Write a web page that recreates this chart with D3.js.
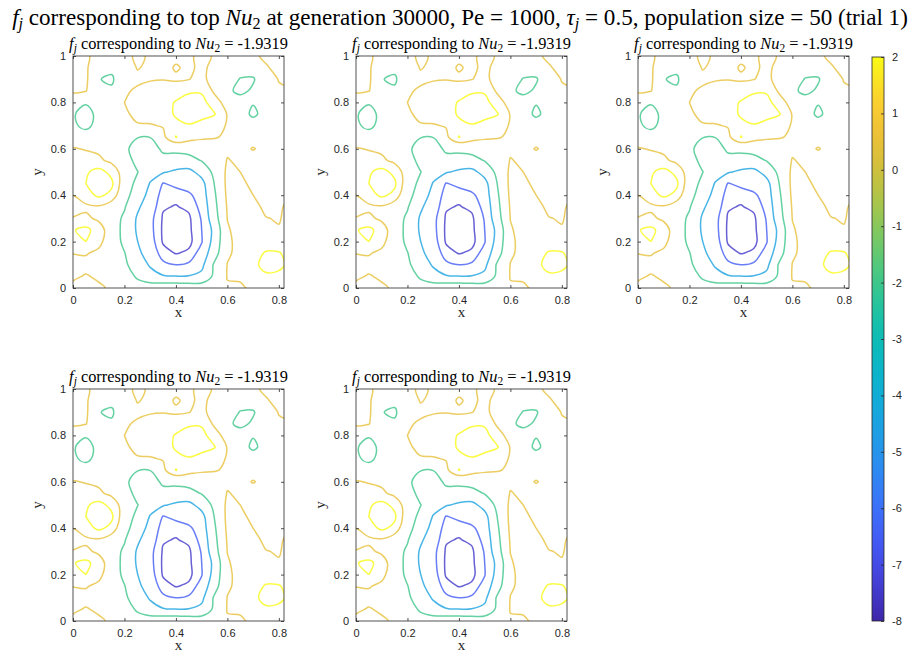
<!DOCTYPE html>
<html><head><meta charset="utf-8">
<script src="https://cdn.jsdelivr.net/npm/d3@7"></script>
<style>body{margin:0;background:#fff}svg{display:block}</style>
</head><body>
<svg id="fig" width="915" height="655"></svg>
<script>
// ---------------- data ----------------
const xGrid = [0,0.05,0.10,0.15,0.20,0.25,0.30,0.35,0.40,0.45,0.50,0.55,0.60,0.65,0.70,0.75,0.80,0.85];
const yGrid = [1.00,0.95,0.90,0.85,0.80,0.75,0.70,0.65,0.60,0.55,0.50,0.45,0.40,0.35,0.30,0.25,0.20,0.15,0.10,0.05,0.00];
// f_j field, one row per yGrid value (top row y = 1)
const fieldRows = [
 [ 1.2, 0.8,-0.2,-0.6, 0.0, 0.8, 0.3, 0.0, 0.2, 0.3, 0.8, 0.4, 0.0, 0.0, 0.3, 0.7, 0.9, 0.6],
 [ 1.1, 0.9,-1.5,-1.7,-0.6, 0.6, 0.2, 0.1, 0.62,0.25,0.8, 0.1,-1.0,-1.6,-1.0, 0.4, 0.8, 0.7],
 [ 0.9, 0.9,-1.95,-2.2,-1.0,0.1, 0.4, 0.45,0.3, 0.45,1.0,-0.3,-1.5,-2.05,-2.2,-0.6,0.6, 0.7],
 [ 0.8, 0.6,-1.4,-1.8, 0.2, 0.8, 1.0, 1.2, 1.4, 1.8, 1.8, 0.2,-1.6,-2.5,-1.7,-0.6, 0.2, 0.4],
 [-0.8,-1.8,-0.9,-0.2, 0.5, 0.9, 1.2, 1.5, 2.1, 2.6, 2.5, 1.2,-0.2,-1.0,-1.8,-1.0, 0.0, 0.3],
 [-1.8,-2.8,-1.4,-0.2, 0.3, 0.8, 1.0, 1.3, 2.2, 2.6, 2.5, 2.1, 0.4,-0.6,-2.6,-0.9,-0.2, 0.1],
 [-1.6,-2.6,-1.2,-0.2, 0.2, 0.4, 0.4, 0.6, 1.6, 1.9, 1.5, 1.0, 0.4, 0.0,-0.4,-0.6,-0.4,-0.2],
 [-0.3,-0.8,-0.4,-0.1,-0.8,-1.9,-1.95,0.1, 2.05,1.3, 0.8, 0.6, 0.3, 0.1,-0.2,-0.6,-0.5,-0.3],
 [ 0.6, 0.4, 0.2,-0.2,-1.4,-3.13,-3.25,-1.5,-1.4,-1.2,-0.8,-0.3,0.2, 0.0, 0.6, 0.0,-0.3,-0.3],
 [ 1.0, 1.1, 0.8, 0.1,-0.8,-2.75,-3.0,-2.88,-3.0,-2.75,-1.9,-1.0,0.6,0.2,-0.2,-0.4,-0.4,-0.3],
 [ 0.6, 1.8, 2.5, 1.6,-0.4,-1.9,-3.63,-4.3,-4.88,-5.2,-3.63,-1.4, 0.9,0.5,-0.3,-0.6,-0.6,-0.5],
 [ 0.9, 2.0, 2.8, 2.3,-0.6,-2.63,-4.63,-6.6,-6.1,-5.7,-5.3,-1.9, 1.0, 0.9, 0.1,-0.6,-0.6,-0.4],
 [ 0.5, 1.4, 2.3, 1.6,-1.2,-3.13,-5.3,-7.1,-7.2,-6.8,-5.7,-2.3, 0.9, 1.1, 0.5,-0.4,-0.5, 0.55],
 [-0.2, 0.2, 0.3,-0.6,-1.8,-4.13,-5.7,-7.4,-7.56,-7.3,-6.1,-2.63,0.7,1.2, 0.9, 0.2, 0.3, 0.9],
 [ 0.6, 0.8, 0.2,-0.9,-2.4,-4.75,-6.1,-7.62,-7.86,-7.68,-6.4,-3.0,0.55,1.3,1.1, 0.55,0.4, 1.0],
 [ 1.9, 2.4, 1.3,-0.5,-2.75,-4.75,-6.1,-7.68,-8.04,-7.74,-6.5,-3.88,0.3,1.2,1.3,0.8, 0.6, 1.1],
 [ 1.6, 2.0, 0.9,-0.4,-2.63,-4.45,-5.9,-7.62,-7.98,-7.8,-6.6,-3.63,0.2,1.0,1.5, 1.5, 1.3, 1.2],
 [ 0.55,0.6, 0.2,-0.4,-1.9,-4.0,-5.5,-7.1,-7.56,-7.3,-5.9,-3.0, 0.3, 0.9, 1.6, 2.1, 2.1, 1.5],
 [-0.2, 0.1, 0.0,-0.6,-1.6,-3.13,-4.75,-6.2,-6.5,-6.3,-5.1,-1.6, 0.55,0.8, 1.7, 2.4, 2.3, 1.6],
 [ 0.3, 0.6, 0.3,-0.2,-0.9,-2.3,-3.63,-4.3,-4.45,-4.4,-3.88,-1.5,0.6,0.8, 1.4, 1.8, 1.7, 1.2],
 [ 0.8, 0.6, 0.7, 0.3, 0.0,-1.0,-0.6,-0.3,-0.2,-0.3,-0.6,-0.8, 0.3, 0.2, 0.9, 1.1, 1.0, 0.9]
];
const levels = [-7.5, -6.5, -4.5, -2, 0.5, 2];
const xTicks = [0, 0.2, 0.4, 0.6, 0.8];
const yTicks = [0, 0.2, 0.4, 0.6, 0.8, 1];
const cbTicks = [-8, -7, -6, -5, -4, -3, -2, -1, 0, 1, 2];
const nuValues = ["-1.9319", "-1.9319", "-1.9319", "-1.9319", "-1.9319"];
const xDomain = [0, 0.82], yDomain = [0, 1], cDomain = [-8, 2];

// --------------- parula colormap ---------------
const parulaStops = [
 [0.243,0.150,0.660],[0.279,0.290,0.930],[0.240,0.440,0.995],[0.150,0.590,0.925],
 [0.060,0.685,0.840],[0.020,0.740,0.720],[0.220,0.785,0.550],[0.540,0.790,0.345],
 [0.830,0.745,0.215],[0.995,0.750,0.230],[0.977,0.984,0.081]];
const parulaInterp = d3.interpolateRgbBasis(parulaStops.map(c => d3.rgb(c[0]*255, c[1]*255, c[2]*255)));
const color = v => parulaInterp(Math.max(0, Math.min(1, (v - cDomain[0]) / (cDomain[1] - cDomain[0]))));

// --------------- layout ---------------
const svg = d3.select("#fig");
const W = 211, H = 232;
const lefts = [73, 356, 638], tops = [56, 389];
const panels = [[0,0],[1,0],[2,0],[0,1],[1,1]];
const serif = "'Liberation Serif', 'DejaVu Serif', serif";
const sans = "'Liberation Sans', Arial, Helvetica, sans-serif";
const axCol = "#262626";

// contour geometry (grid units)
const n = xGrid.length, m = yGrid.length;
const values = [];
for (let j = 0; j < m; j++) {           // j = 0 -> y = 0 (bottom)
  const row = fieldRows[m - 1 - j];
  for (let i = 0; i < n; i++) values.push(row[i]);
}
const contours = d3.contours().size([n, m]).thresholds(levels)(values);
const dxg = xGrid[1] - xGrid[0];
const dyg = yGrid[0] - yGrid[1];
const gx = c => xGrid[0] + (c - 0.5) * dxg;
const gy = c => yGrid[m - 1] + (c - 0.5) * dyg;

function splitRing(ring) {
  const pts = ring.slice(0, -1);
  const isB = p => p[0] <= 0 || p[0] >= n || p[1] <= 0 || p[1] >= m;
  const k0 = pts.findIndex(isB);
  if (k0 < 0) return { closed: [pts], open: [] };
  const rot = pts.slice(k0).concat(pts.slice(0, k0));
  rot.push(rot[0]);
  const open = []; let cur = null;
  for (const p of rot) {
    if (isB(p)) { if (cur && cur.length > 1) { cur.push(p); open.push(cur); } cur = [p]; }
    else cur.push(p);
  }
  return { closed: [], open };
}

// --------------- main title ---------------
function fitText(sel, target) {
  const len = sel.node().getComputedTextLength();
  const fs = parseFloat(sel.attr("font-size"));
  sel.attr("font-size", fs * target / len);
}
const mt = svg.append("text").attr("x", 460).attr("y", 25).attr("text-anchor", "middle")
  .attr("font-family", serif).attr("font-size", 20).attr("fill", "#000");
mt.append("tspan").attr("font-style", "italic").text("f");
mt.append("tspan").attr("font-style", "italic").attr("font-size", "70%").attr("dy", 4).text("j");
mt.append("tspan").attr("dy", -4).text(" corresponding to top ");
mt.append("tspan").attr("font-style", "italic").text("Nu");
mt.append("tspan").attr("font-size", "70%").attr("dy", 4).text("2");
mt.append("tspan").attr("dy", -4).text(" at generation 30000, Pe = 1000, ");
mt.append("tspan").attr("font-style", "italic").text("τ");
mt.append("tspan").attr("font-style", "italic").attr("font-size", "70%").attr("dy", 4).text("j");
mt.append("tspan").attr("dy", -4).text(" = 0.5, population size = 50 (trial 1)");
fitText(mt, 896);

// --------------- panels ---------------
panels.forEach(([c, r], k) => {
  const L = lefts[c], T = tops[r];
  const x = d3.scaleLinear().domain(xDomain).range([L, L + W]);
  const y = d3.scaleLinear().domain(yDomain).range([T + H, T]);
  const g = svg.append("g");
  const clipId = "clip" + k;
  g.append("clipPath").attr("id", clipId).append("rect")
    .attr("x", L).attr("y", T).attr("width", W).attr("height", H);

  const cg = g.append("g").attr("clip-path", `url(#${clipId})`);
  const openLine = d3.line().x(p => x(gx(p[0]))).y(p => y(gy(p[1]))).curve(d3.curveCatmullRom.alpha(0.5));
  const closedLine = d3.line().x(p => x(gx(p[0]))).y(p => y(gy(p[1]))).curve(d3.curveCatmullRomClosed.alpha(0.5));
  contours.forEach(ct => {
    const col = color(ct.value);
    ct.coordinates.forEach(poly => poly.forEach(ring => {
      const s = splitRing(ring);
      s.closed.forEach(pts => cg.append("path").attr("d", closedLine(pts))
        .attr("fill", "none").attr("stroke", col).attr("stroke-width", 1.5).attr("stroke-opacity", 0.8));
      s.open.forEach(pts => cg.append("path").attr("d", openLine(pts))
        .attr("fill", "none").attr("stroke", col).attr("stroke-width", 1.5).attr("stroke-opacity", 0.8));
    }));
  });

  // axes box
  g.append("rect").attr("x", L).attr("y", T).attr("width", W).attr("height", H)
    .attr("fill", "none").attr("stroke", axCol).attr("stroke-width", 0.8);
  const xa = g.append("g").attr("transform", `translate(0,${T + H})`)
    .call(d3.axisBottom(x).tickValues(xTicks).tickSize(-3).tickPadding(8).tickFormat(d3.format("~g")));
  const ya = g.append("g").attr("transform", `translate(${L},0)`)
    .call(d3.axisLeft(y).tickValues(yTicks).tickSize(-3).tickPadding(7).tickFormat(d3.format("~g")));
  [xa, ya].forEach(a => {
    a.select(".domain").remove();
    a.selectAll("line").attr("stroke", axCol).attr("stroke-width", 0.8);
    a.selectAll("text").attr("font-family", sans).attr("font-size", 11).attr("fill", axCol);
  });
  g.append("g").attr("transform", `translate(0,${T})`)
    .call(d3.axisTop(x).tickValues(xTicks).tickSize(-3).tickFormat(""))
    .call(a => { a.select(".domain").remove(); a.selectAll("line").attr("stroke", axCol).attr("stroke-width", 0.8); });
  g.append("g").attr("transform", `translate(${L + W},0)`)
    .call(d3.axisRight(y).tickValues(yTicks).tickSize(-3).tickFormat(""))
    .call(a => { a.select(".domain").remove(); a.selectAll("line").attr("stroke", axCol).attr("stroke-width", 0.8); });

  // axis labels
  g.append("text").attr("x", L + W / 2).attr("y", T + H + 29).attr("text-anchor", "middle")
    .attr("font-family", serif).attr("font-size", 15).attr("fill", axCol).text("x");
  g.append("text").attr("transform", `translate(${L - 31},${T + H / 2}) rotate(-90)`)
    .attr("text-anchor", "middle").attr("font-family", serif).attr("font-size", 15).attr("fill", axCol).text("y");

  // subplot title
  const st = g.append("text").attr("x", L + W / 2).attr("y", T - 7).attr("text-anchor", "middle")
    .attr("font-family", serif).attr("font-size", 14).attr("fill", "#000");
  st.append("tspan").attr("font-style", "italic").text("f");
  st.append("tspan").attr("font-style", "italic").attr("font-size", "70%").attr("dy", 3).text("j");
  st.append("tspan").attr("dy", -3).text(" corresponding to ");
  st.append("tspan").attr("font-style", "italic").text("Nu");
  st.append("tspan").attr("font-size", "70%").attr("dy", 3).text("2");
  st.append("tspan").attr("dy", -3).text(" = " + nuValues[k]);
  fitText(st, 219);
});

// --------------- colorbar ---------------
const cbX = 872, cbW = 12, cbTop = 57, cbBot = 621;
const cy = d3.scaleLinear().domain(cDomain).range([cbBot, cbTop]);
const defs = svg.append("defs");
const grad = defs.append("linearGradient").attr("id", "parula").attr("x1", 0).attr("y1", 1).attr("x2", 0).attr("y2", 0);
d3.range(0, 1.0001, 0.02).forEach(t => grad.append("stop").attr("offset", t)
  .attr("stop-color", parulaInterp(t)));
svg.append("rect").attr("x", cbX).attr("y", cbTop).attr("width", cbW).attr("height", cbBot - cbTop)
  .attr("fill", "url(#parula)").attr("stroke", axCol).attr("stroke-width", 0.8);
const ca = svg.append("g").attr("transform", `translate(${cbX + cbW},0)`)
  .call(d3.axisRight(cy).tickValues(cbTicks).tickSize(-3).tickPadding(8).tickFormat(d3.format("d")));
ca.select(".domain").remove();
ca.selectAll("line").attr("stroke", axCol).attr("stroke-width", 0.8);
ca.selectAll("text").attr("font-family", sans).attr("font-size", 11).attr("fill", axCol)
  .text(d => String(d));
</script>
</body></html>
